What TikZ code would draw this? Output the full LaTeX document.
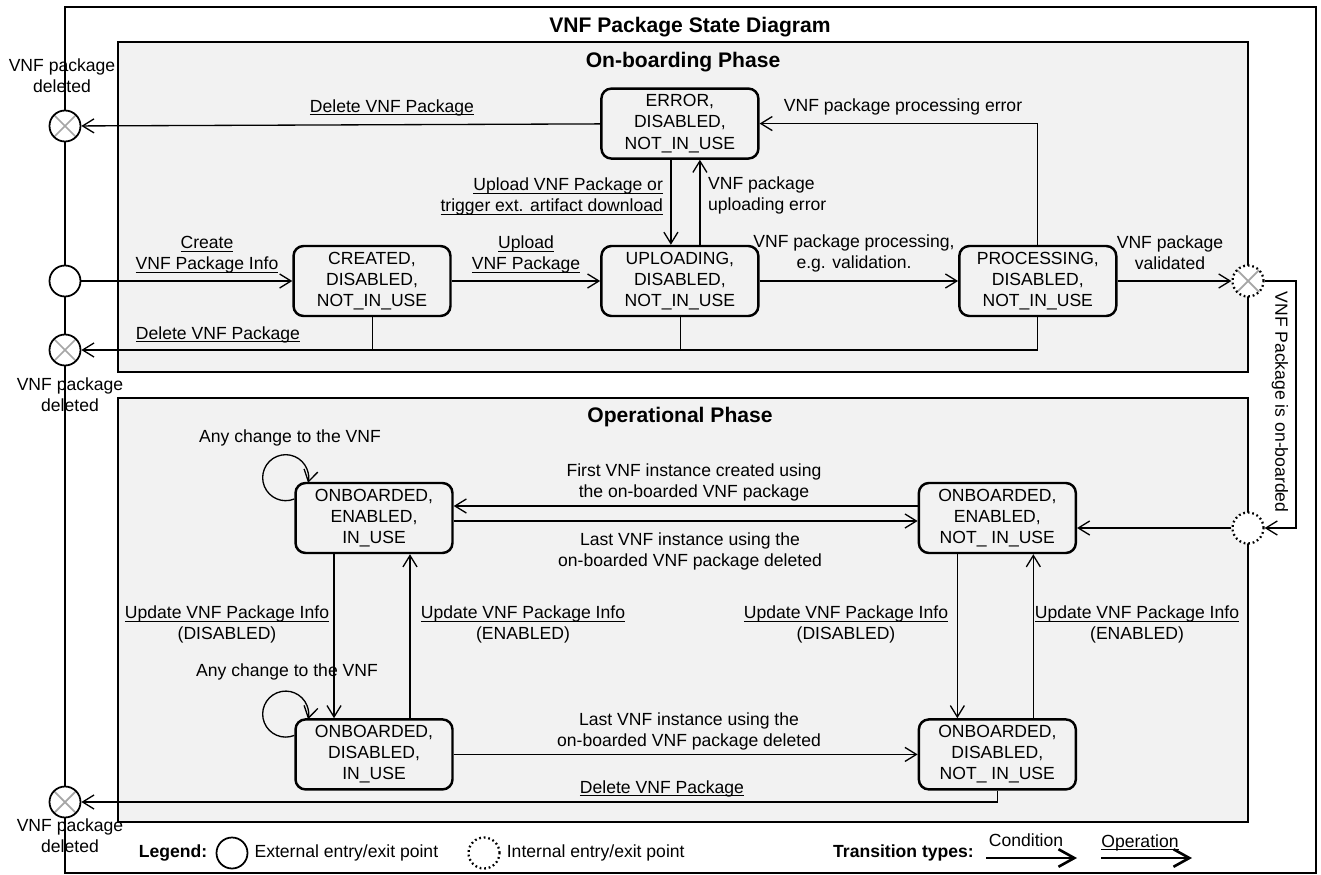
\documentclass[tikz,border=0pt]{standalone}
\usepackage{fontspec}
\setmainfont{Liberation Sans}
\usepackage{xcolor}
\usetikzlibrary{positioning,arrows.meta}

\definecolor{phasegray}{HTML}{F2F2F2}
\definecolor{crossgray}{HTML}{A6A6A6}
\newcommand{\optext}[1]{\underline{\smash{#1}}}

\begin{document}
\begin{tikzpicture}[x=0.02cm,y=-0.02cm,
  font=\fontsize{10}{12}\selectfont,
  state/.style={draw,line width=1.4pt,rounded corners=0.2cm,minimum width=3.14cm,minimum height=1.4cm,align=center,inner sep=1pt},
  phase/.style={draw,line width=0.8pt,fill=phasegray},
  head/.style={font=\bfseries\fontsize{12}{14}\selectfont},
  extpt/.style={circle,draw,line width=1pt,fill=white,minimum size=0.62cm,inner sep=0pt},
  intpt/.style={extpt,line width=1.3pt,dash pattern=on 1pt off 1.6pt},
  xmark/.style={path picture={\draw[crossgray,line width=1pt,solid] (path picture bounding box.north west) -- (path picture bounding box.south east) (path picture bounding box.north east) -- (path picture bounding box.south west);}},
  go/.style={line width=0.75pt,-{Straight Barb[length=6.5pt,width=8pt]}},
  golegend/.style={line width=1.5pt,-{Straight Barb[length=9pt,width=10pt]}},
  lbl/.style={align=center,inner sep=1pt}
]
\useasboundingbox (0,0) rectangle (1321,875);
\draw[line width=0.8pt] (65,7) rectangle (1316,873);
\node[head] (title) at (690,27) {VNF Package State Diagram};

% on-boarding phase
\draw[phase] (118,42) rectangle (1248,372);
\node[head] (onbTitle) at (683,62) {On-boarding Phase};
\node[state] (created) at (372,281) {CREATED,\\DISABLED,\\NOT\_IN\_USE};
\node[state,right=2.97cm of created] (uploading) {UPLOADING,\\DISABLED,\\NOT\_IN\_USE};
\node[state,right=3.97cm of uploading] (processing) {PROCESSING,\\DISABLED,\\NOT\_IN\_USE};
\node[state,above=1.7cm of uploading] (error) {ERROR,\\DISABLED,\\NOT\_IN\_USE};

\node[extpt,xmark] (del1) at (65,126) {};
\node[extpt] (entry) at (65,281) {};
\node[extpt,xmark] (del2) at (65,350) {};
\node[intpt,xmark] (valid) at (1248,281) {};
\node[lbl] (del1Lbl) at (62,76) {VNF package\\deleted};
\node[lbl] (del2Lbl) at (70,395) {VNF package\\deleted};

\draw[go] (entry) -- (created);
\node[lbl] (createLbl) at (207,261) {\optext{Create}\\\optext{VNF Package Info}};
\draw[go] (created) -- (uploading);
\node[lbl] (uploadLbl) at (526,261) {\optext{Upload}\\\optext{VNF Package}};
\draw[go] ([xshift=-0.18cm]error.south) -- ([xshift=-0.18cm]uploading.north);
\node[lbl,align=right,anchor=east] (triggerLbl) at (665,203) {\optext{Upload VNF Package or}\\\optext{trigger ext. artifact download}};
\draw[go] ([xshift=0.4cm]uploading.north) -- ([xshift=0.4cm]error.south);
\node[lbl,align=left,anchor=west] (upErrLbl) at (706,195) {VNF package\\uploading error};
\draw[go] (uploading) -- (processing);
\node[lbl] (procLbl) at (854,253) {VNF package processing,\\e.g. validation.};
\draw[go] (processing.north) |- (error.east);
\node[lbl] (procErrLbl) at (903,107) {VNF package processing error};
\draw[go] (processing) -- (valid);
\node[lbl] (validLbl) at (1170,253) {VNF package\\validated};
\draw[go] (error) -- (del1);
\node[lbl] (delErrLbl) at (392,114) {\optext{Delete VNF Package}};
\draw (created.south) -- (created.south |- del2);
\draw (uploading.south) -- (uploading.south |- del2);
\draw[go] (processing.south) |- (del2);
\node[lbl] (delLbl) at (218,341) {\optext{Delete VNF Package}};

% operational phase
\draw[phase] (118,398) rectangle (1248,822);
\node[head] (opTitle) at (680,417) {Operational Phase};
\node[state] (enInUse) at (374,518) {ONBOARDED,\\ENABLED,\\IN\_USE};
\node[state,right=9.28cm of enInUse] (enNotInUse) {ONBOARDED,\\ENABLED,\\NOT\_ IN\_USE};
\node[state,below=3.28cm of enInUse] (disInUse) {ONBOARDED,\\DISABLED,\\IN\_USE};
\node[state,right=9.28cm of disInUse] (disNotInUse) {ONBOARDED,\\DISABLED,\\NOT\_ IN\_USE};

\node[intpt] (onb) at (1248,528) {};
\node[extpt,xmark] (del3) at (65,802) {};
\node[lbl] (del3Lbl) at (70,836) {VNF package\\deleted};

\coordinate (bendA) at (1296,281);
\coordinate (bendB) at (1296,528);
\draw[go] (valid) -- (bendA) -- (bendB) -- (onb);
\node[rotate=-90] (onbLbl) at (1280,402) {VNF Package is on-boarded};
\draw[go] (onb) -- (enNotInUse.east |- onb);

\draw[go] ([yshift=0.24cm]enNotInUse.west) -- ([yshift=0.24cm]enInUse.east);
\node[lbl] (firstLbl) at (694,482) {First VNF instance created using\\the on-boarded VNF package};
\draw[go] ([yshift=-0.06cm]enInUse.east) -- ([yshift=-0.06cm]enNotInUse.west);
\node[lbl] (lastLbl) at (690,551) {Last VNF instance using the\\on-boarded VNF package deleted};

\draw[go] ([xshift=-0.8cm]enInUse.south) -- ([xshift=-0.8cm]disInUse.north);
\node[lbl] (updDisA) at (227,631) {\optext{Update VNF Package Info}\\(DISABLED)};
\draw[go] ([xshift=0.72cm]disInUse.north) -- ([xshift=0.72cm]enInUse.south);
\node[lbl] (updEnA) at (523,631) {\optext{Update VNF Package Info}\\(ENABLED)};
\draw[go] ([xshift=-0.8cm]enNotInUse.south) -- ([xshift=-0.8cm]disNotInUse.north);
\node[lbl] (updDisB) at (846,631) {\optext{Update VNF Package Info}\\(DISABLED)};
\draw[go] ([xshift=0.72cm]disNotInUse.north) -- ([xshift=0.72cm]enNotInUse.south);
\node[lbl] (updEnB) at (1137,631) {\optext{Update VNF Package Info}\\(ENABLED)};

\draw[go] (disInUse) -- (disNotInUse);
\node[lbl] (lastLblB) at (689,731) {Last VNF instance using the\\on-boarded VNF package deleted};
\draw[go] (disNotInUse.south) |- (del3);
\node[lbl] (delOpLbl) at (662,795) {\optext{Delete VNF Package}};

\draw[go] ([yshift=0.38cm]enInUse.west) arc[start angle=-68,end angle=-373,radius=0.46cm];
\node[lbl] (anyA) at (290,438) {Any change to the VNF};
\draw[go] ([yshift=0.38cm]disInUse.west) arc[start angle=-68,end angle=-373,radius=0.46cm];
\node[lbl] (anyB) at (287,672) {Any change to the VNF};

% legend
\node[font=\bfseries] (legend) at (173,853) {Legend:};
\node[extpt] (legExt) at (232,853) {};
\node[right=0pt of legExt] (legExtTxt) {External entry/exit point};
\node[intpt] (legInt) at (484,853) {};
\node[right=0pt of legInt] (legIntTxt) {Internal entry/exit point};
\node[font=\bfseries,anchor=east] (trTypes) at (980,853) {Transition types:};
\coordinate (condA) at (986,858);
\coordinate (condB) at (1077,858);
\draw[golegend] (condA) -- (condB);
\node (condLbl) at (1026,840) {Condition};
\coordinate (operA) at (1101,858);
\coordinate (operB) at (1192,858);
\draw[golegend] (operA) -- (operB);
\node (operLbl) at (1140,849) {\optext{Operation}};
\end{tikzpicture}
\end{document}
